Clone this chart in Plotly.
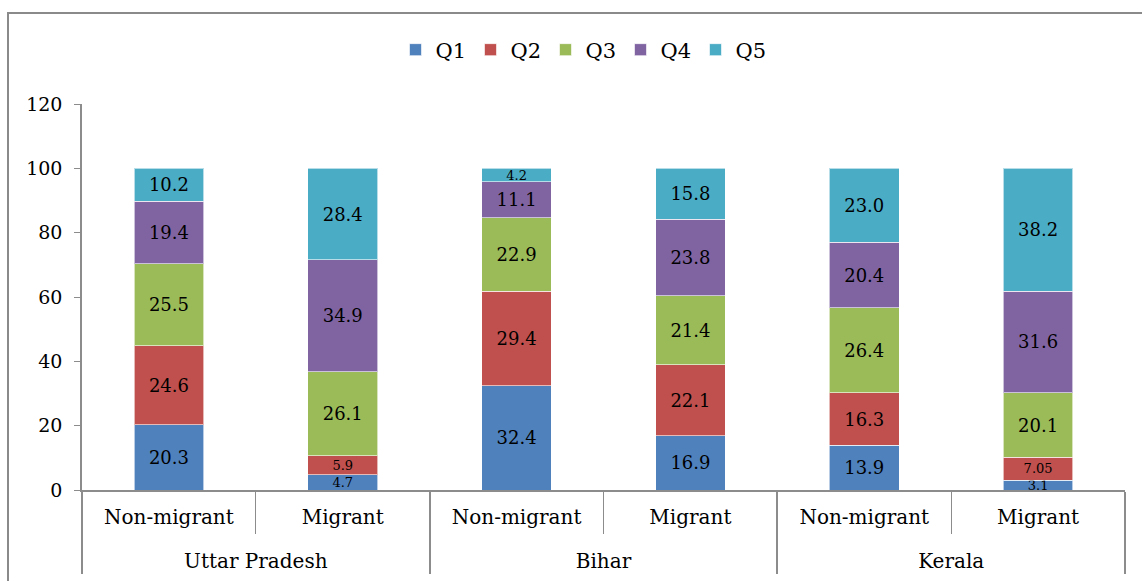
import plotly.graph_objects as go

states = ["Uttar Pradesh", "Uttar Pradesh", "Bihar", "Bihar", "Kerala", "Kerala"]
groups = ["Non-migrant", "Migrant", "Non-migrant", "Migrant", "Non-migrant", "Migrant"]

series_names = ["Q1", "Q2", "Q3", "Q4", "Q5"]
q1 = [20.3, 4.7, 32.4, 16.9, 13.9, 3.1]
q2 = [24.6, 5.9, 29.4, 22.1, 16.3, 7.05]
q3 = [25.5, 26.1, 22.9, 21.4, 26.4, 20.1]
q4 = [19.4, 34.9, 11.1, 23.8, 20.4, 31.6]
q5 = [10.2, 28.4, 4.2, 15.8, 23.0, 38.2]
series_values = [q1, q2, q3, q4, q5]
colors = ["#4F81BD", "#C0504D", "#9BBB59", "#8064A2", "#4BACC6"]

y_ticks = [0, 20, 40, 60, 80, 100, 120]

FONT = "DejaVu Serif"
AXIS_COLOR = "#8c8c8c"

outer_labels = ["<br>" + s for s in states]

fig = go.Figure()
for name, vals, col in zip(series_names, series_values, colors):
    # slightly smaller labels in very thin segments so neighbours don't collide
    sizes = [13 if v < 8 else 18 for v in vals]
    fig.add_trace(go.Bar(
        name=name,
        x=[outer_labels, groups],
        y=vals,
        text=[str(v) for v in vals],
        textposition="inside",
        insidetextanchor="middle",
        constraintext="none",
        textangle=0,
        textfont=dict(family=FONT, size=sizes, color="black"),
        marker=dict(color=col, line=dict(color="rgba(255,255,255,0.6)", width=1)),
        hoverinfo="skip",
    ))

W, H = 1142, 581
ml, mr, mt, mb = 82, 17, 104, 91
pw = W - ml - mr
ph = H - mt - mb

fig.update_layout(
    width=W, height=H,
    margin=dict(l=ml, r=mr, t=mt, b=mb, autoexpand=False),
    barmode="stack",
    bargap=0.6,
    plot_bgcolor="white",
    paper_bgcolor="white",
    font=dict(family=FONT, size=20, color="black"),
    showlegend=True,
    legend=dict(
        orientation="h",
        traceorder="normal",
        x=(583 - ml) / pw, xanchor="center",
        y=(H - mb - 50) / ph, yanchor="middle",
        font=dict(family=FONT, size=21, color="black"),
        itemwidth=30,
        entrywidth=30,
        entrywidthmode="pixels",
        tracegroupgap=0,
    ),
    shapes=[dict(
        type="rect", xref="paper", yref="paper",
        x0=(8 - ml) / pw, x1=1.2,
        y0=-0.5, y1=(H - mb - 13) / ph,
        line=dict(color="#8a8a8a", width=2),
        fillcolor="rgba(0,0,0,0)",
        layer="below",
    )],
)

fig.update_yaxes(
    range=[0, 120],
    tickvals=y_ticks,
    showgrid=False,
    zeroline=False,
    showline=True,
    linecolor=AXIS_COLOR,
    linewidth=1.5,
    ticks="outside",
    ticklen=6,
    tickcolor=AXIS_COLOR,
    ticklabelstandoff=8,
    tickfont=dict(family=FONT, size=19, color="black"),
)
fig.update_xaxes(
    type="multicategory",
    showgrid=False,
    showline=True,
    linecolor=AXIS_COLOR,
    linewidth=1.5,
    ticks="outside",
    tickson="boundaries",
    ticklen=42,
    tickcolor=AXIS_COLOR,
    ticklabelstandoff=8,
    showdividers=True,
    dividercolor=AXIS_COLOR,
    dividerwidth=1.5,
    tickfont=dict(family=FONT, size=20, color="black"),
)

fig.write_html("out.html")
